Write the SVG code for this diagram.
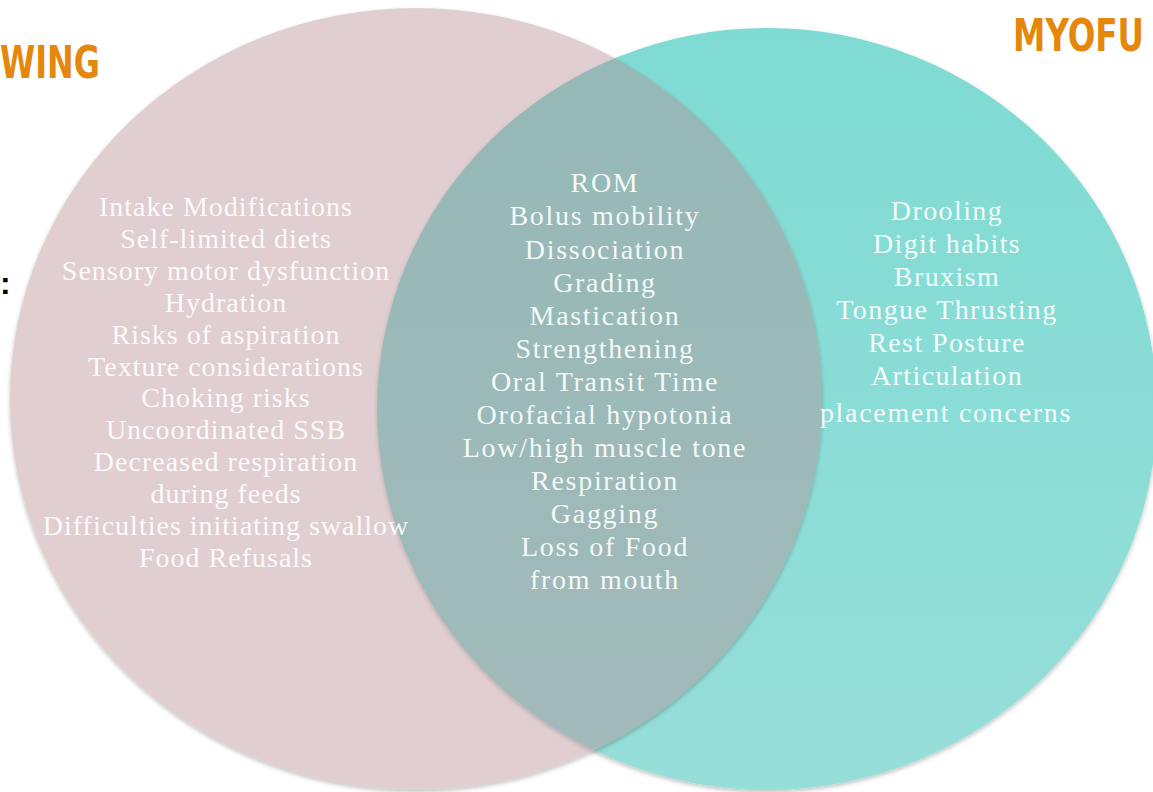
<svg xmlns="http://www.w3.org/2000/svg" width="1153" height="792" viewBox="0 0 1153 792">
<style>
.lbl{font-family:"Liberation Serif","Times New Roman",serif;font-size:28px;fill:#ffffff;fill-opacity:0.92;text-anchor:middle;letter-spacing:1.4px}
.ttl{font-family:"DejaVu Sans Condensed","Liberation Sans",sans-serif;font-weight:bold;font-size:45px;fill:#e5870a}
</style>
<defs>
<linearGradient id="tealGrad" x1="0" y1="0" x2="0" y2="1">
<stop offset="0" stop-color="#7edbd3"/>
<stop offset="1" stop-color="#97ded9"/>
</linearGradient>
<filter id="shadow" x="-5%" y="-5%" width="110%" height="112%">
<feDropShadow dx="0" dy="2" stdDeviation="2" flood-color="#000" flood-opacity="0.25"/>
</filter>
<filter id="shadowStrong" x="-5%" y="-5%" width="110%" height="112%">
<feDropShadow dx="0" dy="2" stdDeviation="2" flood-color="#000" flood-opacity="0.6"/>
</filter>
</defs>
<rect width="1153" height="792" fill="#ffffff"/>
<g id="title-left"><text class="ttl" x="0" y="78" textLength="100" lengthAdjust="spacingAndGlyphs">WING</text></g>
<g id="title-right"><text class="ttl" transform="translate(1013,51) scale(1,1.15)" x="0" y="0" style="font-size:39px" textLength="131" lengthAdjust="spacingAndGlyphs">MYOFU</text></g>
<g id="colon"><text x="0" y="294" font-family="Liberation Sans, Arial, sans-serif" font-weight="bold" font-size="32" fill="#000">:</text></g>
<g id="circle-right"><ellipse cx="767" cy="409" rx="390" ry="381" fill="url(#tealGrad)" filter="url(#shadow)"/></g>
<g id="circle-left" opacity="0.4" filter="url(#shadowStrong)"><ellipse cx="416" cy="399" rx="406" ry="391" fill="#b6878c"/></g>
<g id="connectors"></g>
<g id="text-left">
<text class="lbl" x="226" y="216" style="letter-spacing:1.0px">Intake Modifications</text>
<text class="lbl" x="226" y="248" style="letter-spacing:1.0px">Self-limited diets</text>
<text class="lbl" x="226" y="280" style="letter-spacing:1.0px">Sensory motor dysfunction</text>
<text class="lbl" x="226" y="312" style="letter-spacing:1.0px">Hydration</text>
<text class="lbl" x="226" y="344" style="letter-spacing:1.0px">Risks of aspiration</text>
<text class="lbl" x="226" y="376" style="letter-spacing:1.0px">Texture considerations</text>
<text class="lbl" x="226" y="407" style="letter-spacing:1.0px">Choking risks</text>
<text class="lbl" x="226" y="439" style="letter-spacing:1.0px">Uncoordinated SSB</text>
<text class="lbl" x="226" y="471" style="letter-spacing:1.0px">Decreased respiration</text>
<text class="lbl" x="226" y="503" style="letter-spacing:1.0px">during feeds</text>
<text class="lbl" x="226" y="535" style="letter-spacing:1.0px">Difficulties initiating swallow</text>
<text class="lbl" x="226" y="567" style="letter-spacing:1.0px">Food Refusals</text>
</g>
<g id="text-middle">
<text class="lbl" x="605" y="192" style="letter-spacing:1.7px">ROM</text>
<text class="lbl" x="605" y="225" style="letter-spacing:1.7px">Bolus mobility</text>
<text class="lbl" x="605" y="259" style="letter-spacing:1.7px">Dissociation</text>
<text class="lbl" x="605" y="292" style="letter-spacing:1.7px">Grading</text>
<text class="lbl" x="605" y="325" style="letter-spacing:1.7px">Mastication</text>
<text class="lbl" x="605" y="358" style="letter-spacing:1.7px">Strengthening</text>
<text class="lbl" x="605" y="391" style="letter-spacing:1.7px">Oral Transit Time</text>
<text class="lbl" x="605" y="424" style="letter-spacing:1.7px">Orofacial hypotonia</text>
<text class="lbl" x="605" y="457" style="letter-spacing:1.7px">Low/high muscle tone</text>
<text class="lbl" x="605" y="490" style="letter-spacing:1.7px">Respiration</text>
<text class="lbl" x="605" y="523" style="letter-spacing:1.7px">Gagging</text>
<text class="lbl" x="605" y="556" style="letter-spacing:1.7px">Loss of Food</text>
<text class="lbl" x="605" y="589" style="letter-spacing:1.7px">from mouth</text>
</g>
<g id="text-right">
<text class="lbl" x="947" y="220">Drooling</text>
<text class="lbl" x="947" y="253">Digit habits</text>
<text class="lbl" x="947" y="286">Bruxism</text>
<text class="lbl" x="947" y="319">Tongue Thrusting</text>
<text class="lbl" x="947" y="352">Rest Posture</text>
<text class="lbl" x="947" y="385">Articulation</text>
<text class="lbl" x="946" y="422" style="letter-spacing:1.7px">placement concerns</text>
</g>
</svg>
